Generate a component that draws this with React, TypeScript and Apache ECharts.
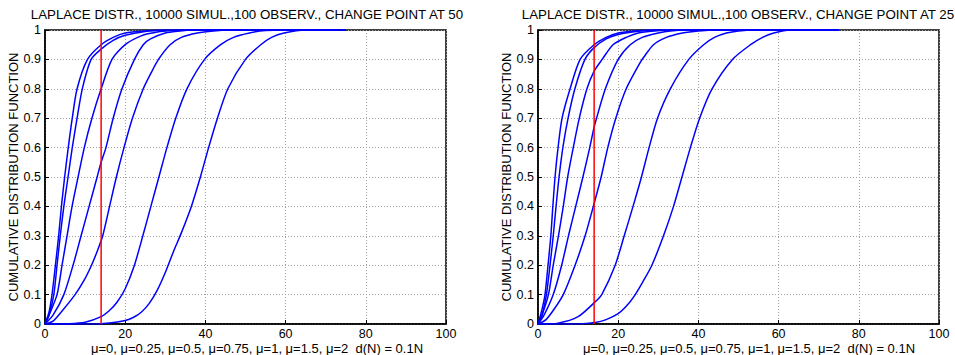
import React, { useEffect, useRef } from "react";
import * as echarts from "echarts";

// Change point location for the red vertical line (x position)
const CHANGE_X = 14;

const MU_LABELS = ["μ=0", "μ=0.25", "μ=0.5", "μ=0.75", "μ=1", "μ=1.5", "μ=2"];

const TITLE_LEFT = "LAPLACE DISTR., 10000 SIMUL.,100 OBSERV., CHANGE POINT AT 50";
const TITLE_RIGHT = "LAPLACE DISTR., 10000 SIMUL.,100 OBSERV., CHANGE POINT AT 25";
const Y_NAME = "CUMULATIVE DISTRIBUTION FUNCTION";
const X_NAME = "μ=0, μ=0.25, μ=0.5, μ=0.75, μ=1, μ=1.5, μ=2  d(N) = 0.1N";

// Left panel (change point at 50)
const L1 = [[0,0],[1,0.04],[1.75,0.1],[2.6,0.2],[3.4,0.3],[4.1,0.4],[4.9,0.5],[5.8,0.6],[6.8,0.7],[8,0.8],[10.6,0.9],[14,0.95],[17,0.975],[20,0.99],[25,0.997],[30,1],[75,1]];
const L2 = [[0,0],[1,0.03],[2.2,0.1],[3,0.2],[3.8,0.3],[4.7,0.4],[5.75,0.5],[6.8,0.6],[8,0.7],[9.3,0.8],[11.5,0.9],[14,0.935],[17,0.965],[20,0.982],[25,0.995],[30,0.999],[35,1],[75,1]];
const L3 = [[0,0],[1,0.03],[3,0.1],[4.25,0.2],[5.5,0.3],[6.75,0.4],[8.25,0.5],[9.8,0.6],[11.7,0.7],[14,0.8],[16.7,0.9],[20,0.95],[24,0.98],[28,0.993],[32,0.998],[36,1],[75,1]];
const L4 = [[0,0],[2,0.03],[4.7,0.1],[7,0.2],[9,0.3],[11,0.4],[13,0.5],[14,0.55],[15.2,0.6],[17,0.7],[19.2,0.8],[22.3,0.9],[24.5,0.95],[26.3,0.97],[30,0.99],[33,0.996],[37,1],[75,1]];
const L5 = [[0,0],[2,0.01],[4,0.04],[7.5,0.1],[9.8,0.15],[11.6,0.2],[13.1,0.25],[14.4,0.3],[16.1,0.4],[17.8,0.5],[19.7,0.6],[21.8,0.7],[24.5,0.8],[26.3,0.85],[28.3,0.9],[31.2,0.95],[34,0.975],[38,0.99],[42,0.997],[46,1],[75,1]];
const L6 = [[0,0],[6,0.001],[10,0.006],[14,0.025],[16,0.045],[18,0.075],[20,0.12],[22.3,0.2],[24.4,0.3],[26.4,0.4],[28.4,0.5],[30.4,0.6],[32.6,0.7],[35.4,0.8],[39.8,0.9],[43.8,0.95],[47,0.975],[51,0.99],[55,0.998],[60,1],[75,1]];
const L7 = [[0,0],[12,0],[16,0.003],[20,0.012],[22,0.022],[24,0.04],[26,0.07],[28,0.115],[30,0.175],[32,0.245],[34,0.31],[36.5,0.4],[38.75,0.5],[40.8,0.6],[43,0.7],[45.6,0.8],[50,0.9],[53.8,0.95],[56.5,0.975],[59.6,0.99],[65,1],[75,1]];

// Right panel (change point at 25)
const R1 = [[0,0],[1,0.05],[1.75,0.1],[2.5,0.2],[3.2,0.3],[3.7,0.4],[4.25,0.5],[5,0.6],[6,0.7],[8,0.8],[10.5,0.9],[14,0.95],[17,0.975],[20,0.99],[25,0.998],[28,1],[75,1]];
const R2 = [[0,0],[1,0.03],[2.1,0.1],[3,0.2],[3.8,0.3],[4.5,0.4],[5.25,0.5],[6.2,0.6],[7.5,0.7],[9.2,0.8],[11.7,0.9],[14,0.94],[17,0.97],[20,0.985],[25,0.996],[30,1],[75,1]];
const R3 = [[0,0],[1,0.03],[2.6,0.1],[3.8,0.2],[5.1,0.3],[6.3,0.4],[7.4,0.5],[8.8,0.6],[10.3,0.7],[12.2,0.8],[14,0.86],[16,0.9],[18.7,0.95],[22,0.975],[25,0.99],[29,0.997],[33,1],[75,1]];
const R4 = [[0,0],[1.5,0.03],[3.8,0.1],[5.9,0.2],[7.6,0.3],[9.4,0.4],[11.2,0.5],[12.9,0.6],[14,0.67],[14.6,0.7],[16.8,0.8],[20,0.9],[23,0.95],[26,0.975],[30,0.99],[33,0.997],[37,1],[75,1]];
const R5 = [[0,0],[2,0.015],[4,0.05],[6.3,0.1],[9.25,0.2],[11.75,0.3],[13.8,0.4],[15.75,0.5],[17.4,0.6],[19.4,0.7],[22,0.8],[25.5,0.89],[26.5,0.91],[28.8,0.95],[32,0.975],[36,0.99],[40,0.997],[45,1],[75,1]];
const R6 = [[0,0],[5,0.003],[10,0.025],[14.3,0.076],[15.9,0.1],[19.25,0.2],[21.5,0.3],[23.7,0.4],[25.8,0.5],[27.7,0.6],[29.8,0.7],[33,0.8],[37.6,0.9],[41.3,0.95],[44,0.975],[47,0.99],[50,0.997],[54,1],[75,1]];
const R7 = [[0,0],[10,0],[14.3,0.005],[17,0.015],[20,0.035],[22,0.06],[24,0.095],[26,0.14],[28.4,0.2],[31.3,0.3],[33.8,0.4],[35.9,0.5],[38,0.6],[40.3,0.7],[43.4,0.8],[48.5,0.9],[53,0.95],[56,0.975],[58.8,0.99],[63,1],[75,1]];

const LEFT_CURVES = [L1, L2, L3, L4, L5, L6, L7];
const RIGHT_CURVES = [R1, R2, R3, R4, R5, R6, R7];

const FONT = "'Liberation Sans', Arial, Helvetica, sans-serif";

export default function App() {
  const ref = useRef<HTMLDivElement>(null);

  useEffect(() => {
    if (!ref.current) return;
    const chart = echarts.init(ref.current, undefined, { renderer: "svg" });

    const grids = [
      { left: 45, top: 30, width: 401, height: 294 },
      { left: 538, top: 30, width: 401, height: 294 },
    ];

    const mkX = (i: number) => ({
      type: "value",
      gridIndex: i,
      min: 0,
      max: 100,
      interval: 20,
      axisLine: { show: true, onZero: false, lineStyle: { color: "#000", width: 1.5 } },
      axisTick: { show: true, inside: true, length: 4, lineStyle: { color: "#000" } },
      axisLabel: { color: "#000", fontSize: 12.5, fontFamily: FONT, margin: 3 },
      splitLine: { show: true, lineStyle: { color: "#a0a0a0", type: [1, 2], width: 1 } },
    });
    const mkY = (i: number) => ({
      type: "value",
      gridIndex: i,
      min: 0,
      max: 1,
      interval: 0.1,
      name: Y_NAME,
      nameLocation: "middle",
      nameGap: 22,
      nameRotate: 90,
      nameTextStyle: { color: "#000", fontSize: 13, fontFamily: FONT },
      axisLine: { show: true, lineStyle: { color: "#000", width: 1.5 } },
      axisTick: { show: true, inside: true, length: 4, lineStyle: { color: "#000" } },
      axisLabel: { color: "#000", fontSize: 12.5, fontFamily: FONT, margin: 4 },
      splitLine: { show: true, lineStyle: { color: "#a0a0a0", type: [1, 2], width: 1 } },
    });

    const series: any[] = [];
    [LEFT_CURVES, RIGHT_CURVES].forEach((curves, gi) => {
      curves.forEach((data, k) => {
        series.push({
          type: "line",
          name: MU_LABELS[k],
          xAxisIndex: gi,
          yAxisIndex: gi,
          data,
          showSymbol: false,
          smooth: 0.25,
          lineStyle: { color: "#0000ff", width: 1.5 },
          clip: true,
        });
      });
      series.push({
        type: "line",
        name: "change",
        xAxisIndex: gi,
        yAxisIndex: gi,
        data: [[CHANGE_X, 0], [CHANGE_X, 1]],
        showSymbol: false,
        lineStyle: { color: "#ff0000", width: 1.5 },
        z: 3,
      });
    });

    const text = (x: number, y: number, s: string, size: number) => ({
      type: "text",
      x,
      y,
      style: {
        text: s,
        textAlign: "center",
        textVerticalAlign: "middle",
        fill: "#000",
        font: `${size}px ${FONT}`,
      },
    });

    chart.setOption({
      animation: false,
      backgroundColor: "#fff",
      grid: grids.map((g) => ({ ...g, show: true, borderColor: "#000", borderWidth: 1.5, backgroundColor: "transparent" })),
      xAxis: [mkX(0), mkX(1)],
      yAxis: [mkY(0), mkY(1)],
      series,
      graphic: [
        text(247, 14, TITLE_LEFT, 13.3),
        text(738, 14, TITLE_RIGHT, 13.3),
        text(257, 348, X_NAME, 13),
        text(749, 348, X_NAME, 13),
      ],
    });

    return () => chart.dispose();
  }, []);

  return (
    <div
      ref={ref}
      style={{ position: "fixed", left: 0, top: 0, width: 955, height: 355, background: "#fff" }}
    />
  );
}
